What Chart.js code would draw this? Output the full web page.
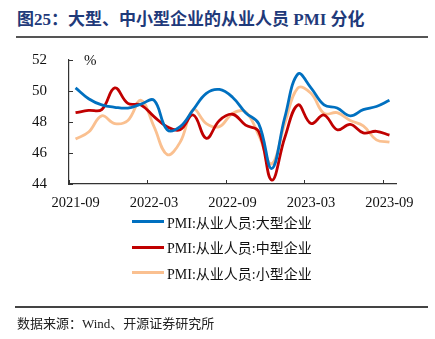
<!DOCTYPE html>
<html>
<head>
<meta charset="utf-8">
<script src="https://cdn.jsdelivr.net/npm/chart.js@4.4.0/dist/chart.umd.min.js"></script>
<style>
  html,body{margin:0;padding:0;background:#fff;}
  body{width:435px;height:339px;position:relative;overflow:hidden;font-family:"Liberation Serif","Noto Sans CJK SC",serif;}
  #title{position:absolute;left:17px;top:5px;font-size:17px;font-weight:bold;color:#1f3a7a;white-space:nowrap;}
  #rule1{position:absolute;left:16px;top:36px;width:412px;height:1.5px;background:#555;}
  #rule2{position:absolute;left:15px;top:306px;width:413px;height:1.5px;background:#444;}
  #source{position:absolute;left:17px;top:313px;font-size:13px;color:#222;white-space:nowrap;}
  #myChart{position:absolute;left:0;top:0;}
  #legend{position:absolute;left:132px;top:209px;}
  .item{height:25.5px;display:flex;align-items:center;font-size:14px;color:#111;white-space:nowrap;}
  .swatch{width:32px;height:3px;margin-right:3px;}
</style>
</head>
<body>
<div id="title">图25：大型、中小型企业的从业人员 PMI 分化</div>
<div id="rule1"></div>
<canvas id="myChart" width="435" height="339"></canvas>
<div id="legend"></div>
<div id="rule2"></div>
<div id="source">数据来源：Wind、开源证券研究所</div>
<script>
const months = ['2021-09','2021-10','2021-11','2021-12','2022-01','2022-02','2022-03','2022-04','2022-05','2022-06','2022-07','2022-08','2022-09','2022-10','2022-11','2022-12','2023-01','2023-02','2023-03','2023-04','2023-05','2023-06','2023-07','2023-08','2023-09'];
const large  = [50.2,49.5,49.1,48.95,48.9,49.15,49.4,47.5,47.7,48.8,49.85,50.1,49.6,48.6,47.9,45.0,48.3,51.1,50.2,49.1,48.9,48.4,48.8,49.0,49.4];
const medium = [48.6,48.75,48.8,50.2,49.2,49.1,48.35,47.7,47.5,48.45,46.95,48.1,48.5,47.8,47.4,44.25,47.0,49.1,47.9,48.45,47.5,47.85,47.3,47.4,47.15];
const small  = [46.9,47.35,48.4,47.9,48.1,49.4,47.7,45.9,46.7,48.8,47.9,47.7,48.55,48.65,47.15,45.3,47.9,50.2,49.85,48.55,48.6,48.1,47.75,46.85,46.7];
const yTicks = [44,46,48,50,52];

const serif = '"Liberation Serif","Noto Sans CJK SC",serif';

// inward tick marks + "%" label
const axisDecor = {
  id:'axisDecor',
  afterDraw(chart){
    const c = chart.ctx, xs = chart.scales.x, ys = chart.scales.y, a = chart.chartArea;
    c.save();
    c.strokeStyle = '#333'; c.lineWidth = 1;
    const half = (xs.getPixelForValue(1) - xs.getPixelForValue(0)) / 2;
    months.forEach((m,i)=>{
      if(i % 6 !== 0) return;
      const x = Math.round(xs.getPixelForValue(i) - half) + 0.5;
      c.beginPath(); c.moveTo(x, a.bottom); c.lineTo(x, a.bottom - 4); c.stroke();
    });
    yTicks.forEach(v=>{
      const y = Math.round(ys.getPixelForValue(v)) + 0.5;
      c.beginPath(); c.moveTo(a.left, y); c.lineTo(a.left + 4, y); c.stroke();
    });
    c.fillStyle = '#111';
    c.font = '15px ' + serif;
    c.textBaseline = 'middle';
    c.fillText('%', a.left + 15, a.top + 1);
    c.restore();
  }
};

const mk = (label, data, color) => ({
  label, data, borderColor: color, backgroundColor: color,
  borderWidth: 2.8, pointRadius: 0, tension: 0.4, fill: false
});

const ctx = document.getElementById('myChart');
const chart = new Chart(ctx, {
  type: 'line',
  data: {
    labels: months,
    datasets: [
      mk('PMI:从业人员:大型企业', large, '#0070c0'),
      mk('PMI:从业人员:中型企业', medium, '#c00000'),
      mk('PMI:从业人员:小型企业', small, '#fac090')
    ]
  },
  options: {
    responsive: false,
    animation: false,
    layout: { padding: { left: 0, right: 39, top: 60, bottom: 125 } },
    plugins: { legend: { display: false }, tooltip: { enabled: false } },
    scales: {
      x: {
        offset: true,
        grid: { display: false },
        border: { color: '#333', width: 1.2 },
        afterFit: s => { s.height = 30; },
        ticks: {
          autoSkip: false, maxRotation: 0, padding: 2, color: '#111',
          font: { family: serif, size: 14.5 },
          callback: function(v, i){ return i % 6 === 0 ? months[i] : ''; }
        }
      },
      y: {
        min: 44, max: 52,
        grid: { display: false },
        border: { color: '#333', width: 1.2 },
        afterFit: s => { s.width = 69; },
        afterBuildTicks: s => { s.ticks = yTicks.map(v => ({ value: v })); },
        ticks: { padding: 14, color: '#111', font: { family: serif, size: 15 } }
      }
    }
  },
  plugins: [axisDecor]
});

// legend built from the chart's own legend items
const leg = document.getElementById('legend');
chart.options.plugins.legend.labels.generateLabels(chart).forEach(it=>{
  const row = document.createElement('div'); row.className = 'item';
  const sw = document.createElement('div'); sw.className = 'swatch'; sw.style.background = it.strokeStyle;
  const tx = document.createElement('span'); tx.textContent = it.text;
  row.appendChild(sw); row.appendChild(tx); leg.appendChild(row);
});
</script>
</body>
</html>
